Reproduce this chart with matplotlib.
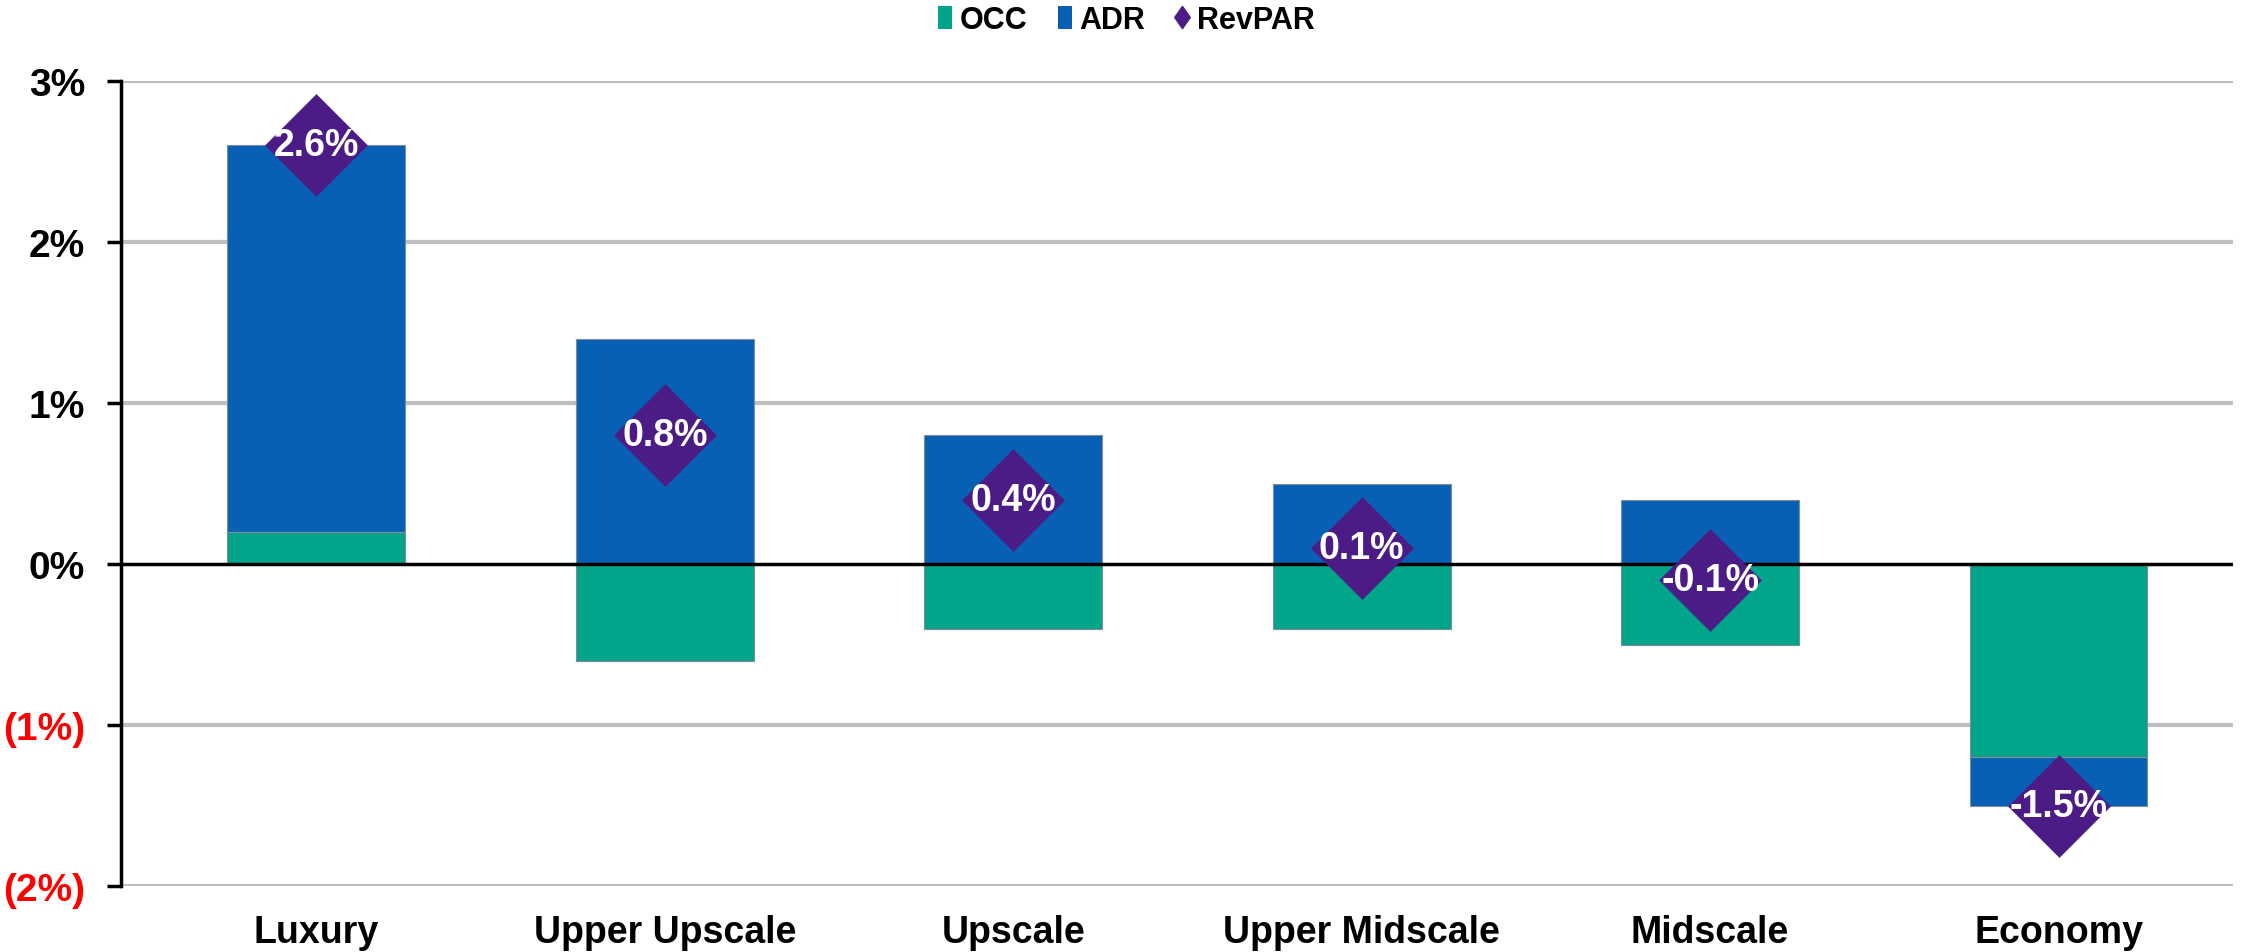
import matplotlib
matplotlib.use("Agg")
import numpy as np
import matplotlib.pyplot as plt
from matplotlib.lines import Line2D
from matplotlib.patches import Patch

# segment data, % change
categories = ["Luxury", "Upper Upscale", "Upscale", "Upper Midscale", "Midscale", "Economy"]
occ = [0.2, -0.6, -0.4, -0.4, -0.5, -1.2]
adr = [2.4, 1.4, 0.8, 0.5, 0.4, -0.3]
revpar = [2.6, 0.8, 0.4, 0.1, -0.1, -1.5]
yticks = [-2, -1, 0, 1, 2, 3]

OCC_COLOR = "#00A58A"
ADR_COLOR = "#0860B4"
REV_COLOR = "#4B1C86"

plt.rcParams["font.family"] = ["Liberation Sans", "DejaVu Sans"]
plt.rcParams["font.weight"] = "bold"

fig = plt.figure(figsize=(22.44, 9.53), dpi=100)
ax = fig.add_axes([0.054, 0.069, 0.941, 0.845])

x = np.arange(len(categories))
width = 0.51

# excel-style stacking: positives build up from zero, negatives build down
pos = np.zeros(len(x))
neg = np.zeros(len(x))
for vals, color in [(occ, OCC_COLOR), (adr, ADR_COLOR)]:
    vals = np.array(vals)
    bottom = np.where(vals >= 0, pos, neg)
    ax.bar(x, vals, width, bottom=bottom, color=color, edgecolor="#7f8c99",
           linewidth=0.8, zorder=3)
    pos = pos + np.clip(vals, 0, None)
    neg = neg + np.clip(vals, None, 0)

# RevPAR diamonds with value labels
diamond = [(0, 1), (1, 0), (0, -1), (-1, 0), (0, 1)]
ax.plot(x, revpar, linestyle="none", marker=diamond, markersize=74,
        color=REV_COLOR, markeredgewidth=0, zorder=4)
for xi, v in zip(x, revpar):
    ax.text(xi, v, f"{v:.1f}%", ha="center", va="center", color="white",
            fontsize=27, fontweight="bold", zorder=5)

ax.set_xlim(-0.56, 5.5)
ax.set_ylim(-2, 3)
ax.set_yticks(yticks)
ylabels = [f"({abs(t)}%)" if t < 0 else f"{t}%" for t in yticks]
ax.set_yticklabels(ylabels, fontsize=28, fontweight="bold")
for lbl, t in zip(ax.get_yticklabels(), yticks):
    lbl.set_color("#FF0000" if t < 0 else "black")

ax.set_xticks(x)
ax.set_xticklabels(categories, fontsize=27, fontweight="bold")
ax.tick_params(axis="x", length=0, pad=20)
ax.tick_params(axis="y", length=10, width=2.5, direction="out", pad=16)

for t in yticks:
    if t == 0:
        ax.axhline(0, color="black", lw=2.5, zorder=3.5)
    else:
        ax.axhline(t, color="#BFBFBF", lw=3, zorder=1)

for s in ["top", "right", "bottom"]:
    ax.spines[s].set_visible(False)
ax.spines["left"].set_linewidth(2.5)
ax.spines["left"].set_zorder(6)

legend_diamond = [(0, 1), (0.7, 0), (0, -1), (-0.7, 0), (0, 1)]
handles = [
    Patch(facecolor=OCC_COLOR, label="OCC"),
    Patch(facecolor=ADR_COLOR, label="ADR"),
    Line2D([], [], marker=legend_diamond, linestyle="none", color=REV_COLOR,
           markersize=16, label="RevPAR"),
]
fig.legend(handles=handles, loc="center", bbox_to_anchor=(0.502, 0.978), ncol=3,
           frameon=False, handlelength=0.45, handleheight=0.75,
           handletextpad=0.25, columnspacing=1.0,
           prop={"weight": "bold", "size": 22})

fig.savefig("out.png", dpi=100)
